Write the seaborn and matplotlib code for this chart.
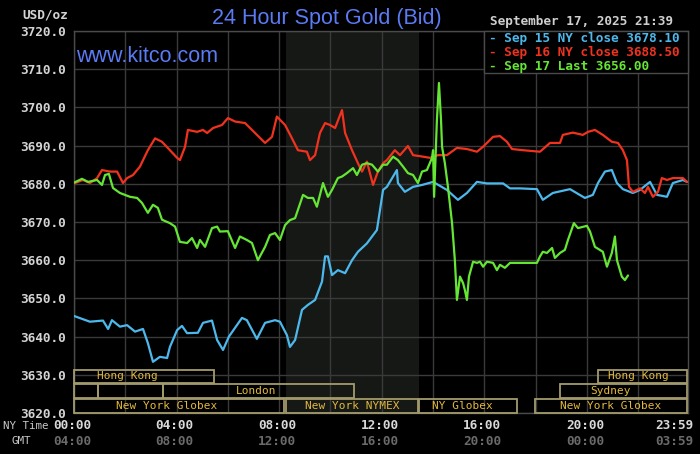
import matplotlib
matplotlib.use("Agg")
import matplotlib.pyplot as plt
import matplotlib.transforms as mtransforms
from matplotlib.patches import Rectangle
import numpy as np
import pandas as pd
import seaborn as sns

# ---------------- data (hours after NY midnight, USD/oz) ----------------
sep15_hours = [0.00, 0.62, 1.13, 1.33, 1.48, 1.79, 2.07, 2.38, 2.69, 2.88, 3.08, 3.35, 3.63, 3.74,
               4.02, 4.21, 4.41, 4.83, 5.03, 5.38, 5.58, 5.81, 6.04, 6.55, 6.74, 7.13, 7.45, 7.84,
               8.03, 8.30, 8.42, 8.62, 8.89, 9.12, 9.40, 9.67, 9.79, 9.90, 10.06, 10.29, 10.57,
               10.84, 11.07, 11.42, 11.62, 11.81, 11.93, 12.05, 12.20, 12.44, 12.59, 12.63, 12.90,
               13.22, 13.57, 14.00, 14.54, 14.97, 15.32, 15.71, 16.10, 16.73, 17.00, 17.39, 18.05,
               18.28, 18.67, 19.34, 19.92, 20.23, 20.43, 20.70, 20.97, 21.17, 21.40, 21.79, 22.07,
               22.46, 22.73, 23.12, 23.35, 23.74, 23.90]
sep15_price = [3645.4, 3643.9, 3644.2, 3642.0, 3644.3, 3642.6, 3643.0, 3641.3, 3642.0, 3638.3,
               3633.4, 3634.7, 3634.4, 3637.3, 3641.7, 3642.8, 3640.9, 3641.0, 3643.6, 3644.2,
               3639.1, 3636.5, 3640.0, 3644.9, 3644.3, 3639.4, 3643.6, 3644.3, 3643.9, 3640.4,
               3637.3, 3639.1, 3647.0, 3648.3, 3649.6, 3654.4, 3661.0, 3661.0, 3656.1, 3657.4,
               3656.6, 3660.0, 3662.2, 3664.4, 3666.2, 3667.9, 3673.1, 3678.4, 3679.2, 3681.9,
               3683.6, 3680.2, 3677.9, 3679.2, 3679.7, 3680.5, 3678.4, 3675.8, 3677.6, 3680.5,
               3680.1, 3680.1, 3678.8, 3678.8, 3678.6, 3675.8, 3677.6, 3678.6, 3676.3, 3677.1,
               3680.2, 3683.2, 3683.6, 3680.2, 3678.6, 3677.6, 3678.4, 3680.5, 3677.1, 3676.6,
               3680.2, 3681.0, 3680.5]

sep16_hours = [0.00, 0.35, 0.62, 0.90, 1.09, 1.40, 1.68, 1.91, 2.07, 2.30, 2.57, 2.88, 3.16, 3.43,
               3.74, 4.02, 4.13, 4.33, 4.44, 4.80, 5.03, 5.19, 5.42, 5.77, 6.00, 6.28, 6.67, 7.06,
               7.45, 7.72, 7.91, 8.23, 8.50, 8.73, 9.08, 9.20, 9.40, 9.59, 9.79, 9.98, 10.18, 10.45,
               10.57, 10.84, 11.07, 11.23, 11.42, 11.66, 11.85, 12.05, 12.20, 12.51, 12.71, 13.02,
               13.22, 13.61, 13.88, 14.19, 14.54, 14.93, 15.32, 15.71, 15.95, 16.34, 16.61, 16.88,
               17.08, 17.50, 18.17, 18.56, 18.95, 19.06, 19.45, 19.84, 20.04, 20.31, 20.62, 20.97,
               21.21, 21.40, 21.56, 21.64, 21.79, 22.07, 22.26, 22.38, 22.57, 22.77, 22.92, 23.12,
               23.35, 23.74, 23.90]
sep16_price = [3680.1, 3681.0, 3680.2, 3681.5, 3683.6, 3683.2, 3683.2, 3680.2, 3681.5, 3682.3,
               3684.5, 3688.8, 3691.9, 3691.0, 3688.8, 3686.8, 3686.2, 3689.7, 3694.1, 3693.6,
               3694.1, 3693.3, 3694.6, 3695.4, 3697.2, 3696.3, 3695.9, 3693.3, 3690.7, 3692.3,
               3697.6, 3695.4, 3691.9, 3688.8, 3688.4, 3686.2, 3687.5, 3693.3, 3695.9, 3695.4,
               3694.6, 3699.3, 3693.3, 3688.8, 3685.4, 3683.2, 3685.8, 3679.7, 3683.2, 3685.4,
               3686.2, 3688.8, 3687.5, 3689.9, 3687.5, 3687.1, 3686.8, 3687.5, 3687.5, 3689.4,
               3689.1, 3688.4, 3689.7, 3692.3, 3692.5, 3691.0, 3689.1, 3688.8, 3688.4, 3690.7,
               3690.7, 3692.8, 3693.4, 3692.8, 3693.6, 3694.1, 3692.8, 3691.0, 3690.7, 3688.8,
               3686.2, 3679.2, 3677.9, 3678.8, 3677.6, 3679.2, 3676.6, 3677.9, 3681.5, 3681.0,
               3681.5, 3681.5, 3680.5]

sep17_hours = [0.00, 0.31, 0.55, 0.90, 1.09, 1.21, 1.36, 1.52, 1.79, 2.18, 2.46, 2.65, 2.88, 3.08,
               3.27, 3.43, 3.74, 3.94, 4.13, 4.41, 4.60, 4.80, 4.91, 5.11, 5.38, 5.58, 5.69, 6.00,
               6.28, 6.47, 6.74, 6.94, 7.17, 7.45, 7.64, 7.84, 8.03, 8.23, 8.42, 8.62, 8.93, 9.12,
               9.32, 9.47, 9.71, 9.90, 10.06, 10.29, 10.45, 10.64, 10.88, 11.03, 11.23, 11.42,
               11.62, 11.85, 12.05, 12.20, 12.44, 12.63, 12.83, 13.02, 13.22, 13.41, 13.57, 13.76,
               13.96, 14.00, 14.04, 14.15, 14.23, 14.31, 14.35, 14.46, 14.58, 14.74, 14.85, 14.93,
               15.05, 15.17, 15.24, 15.32, 15.40, 15.56, 15.71, 15.83, 15.95, 16.10, 16.34, 16.49,
               16.61, 16.80, 17.00, 17.50, 18.05, 18.17, 18.28, 18.44, 18.64, 18.75, 18.95, 19.14,
               19.26, 19.49, 19.65, 20.00, 20.12, 20.31, 20.62, 20.78, 20.97, 21.09, 21.17, 21.36,
               21.48, 21.60]
sep17_price = [3680.3, 3681.3, 3680.5, 3681.0, 3679.7, 3682.3, 3682.6, 3678.9, 3677.6, 3676.6,
               3676.3, 3675.0, 3672.4, 3674.5, 3673.7, 3670.6, 3669.7, 3668.8, 3664.8, 3664.5,
               3665.8, 3663.2, 3665.3, 3663.5, 3668.4, 3668.8, 3667.5, 3667.6, 3663.2, 3666.2,
               3665.3, 3664.5, 3660.0, 3663.5, 3666.6, 3667.1, 3665.3, 3669.2, 3670.5, 3671.0,
               3677.1, 3676.3, 3676.3, 3674.0, 3680.2, 3676.6, 3678.4, 3681.5, 3681.9, 3682.8,
               3684.1, 3682.3, 3685.0, 3685.4, 3685.0, 3683.2, 3685.0, 3685.0, 3687.1, 3686.2,
               3684.5, 3682.8, 3682.3, 3680.2, 3683.2, 3683.6, 3686.8, 3688.8, 3676.6, 3696.7,
               3706.4, 3696.7, 3689.7, 3685.4, 3679.2, 3669.7, 3660.0, 3649.6, 3655.7, 3654.0,
               3652.2, 3649.6, 3655.7, 3659.6, 3659.3, 3659.6, 3658.3, 3659.6, 3659.3, 3657.4,
               3658.8, 3658.0, 3659.3, 3659.3, 3659.3, 3661.0, 3662.2, 3661.9, 3663.2, 3660.6,
               3661.9, 3662.7, 3665.3, 3669.7, 3668.4, 3669.0, 3667.5, 3663.5, 3662.2, 3658.3,
               3661.9, 3666.2, 3660.0, 3655.7, 3654.8, 3656.0]

series_names = ["Sep 15", "Sep 16", "Sep 17"]
legend_labels = ["Sep 15 NY close 3678.10", "Sep 16 NY close 3688.50", "Sep 17 Last 3656.00"]

ny_tick_hours = [0, 4, 8, 12, 16, 20, 23.98]
ny_tick_labels = ["00:00", "04:00", "08:00", "12:00", "16:00", "20:00", "23:59"]
gmt_tick_labels = ["04:00", "08:00", "12:00", "16:00", "20:00", "00:00", "03:59"]

# trading sessions: (row, label, start hour, end hour)
session_rows = [0, 0, 1, 1, 1, 1, 2, 2, 2, 2]
session_names = ["Hong Kong", "Hong Kong", "", "", "London", "Sydney",
                 "New York Globex", "New York NYMEX", "NY Globex", "New York Globex"]
session_start = [0.0, 20.45, 0.0, 0.95, 3.47, 18.93, 0.0, 8.28, 13.45, 17.98]
session_end = [5.46, 23.90, 0.95, 3.47, 10.93, 23.90, 8.20, 13.40, 17.26, 23.90]
session_label_x = [2.1, 22.0, None, None, 7.1, 20.9, 3.6, 10.85, 15.15, 20.93]

nymex_start, nymex_end = 8.28, 13.45

# ---------------- build frame ----------------
df = pd.concat([
    pd.DataFrame({"hour": h, "price": p, "day": n})
    for h, p, n in zip([sep15_hours, sep16_hours, sep17_hours],
                       [sep15_price, sep16_price, sep17_price], series_names)
], ignore_index=True)

palette = {"Sep 15": "#4cb8ec", "Sep 16": "#f0321e", "Sep 17": "#66e634"}

sns.set_theme(style="dark")
plt.rcParams["font.family"] = ["DejaVu Sans"]

W, H = 700, 454
fig = plt.figure(figsize=(W / 100, H / 100), dpi=100, facecolor="black")
L, R, T, B = 74, 688, 31, 413
ax = fig.add_axes([L / W, (H - B) / H, (R - L) / W, (B - T) / H])
ax.set_facecolor("black")

grid_c = "#3a3a3a"
ax.axvspan(nymex_start, nymex_end, color="#151815", zorder=0, lw=0)

sns.lineplot(data=df, x="hour", y="price", hue="day", palette=palette,
             estimator=None, sort=False, linewidth=1.6, legend=False, ax=ax, zorder=3)

ax.set_xlim(0, 23.94)
ax.set_ylim(3620, 3720)
ax.set_xticks(np.arange(0, 24, 2))
ax.set_yticks(np.arange(3620, 3721, 10))
ax.set_yticklabels([f"{v:.1f}" for v in np.arange(3620, 3721, 10)])
ax.set_xticklabels([])
ax.grid(True, color=grid_c, linewidth=1.0, zorder=1)
ax.set_axisbelow(True)
ax.tick_params(axis="both", length=0, pad=6)
ax.tick_params(axis="y", labelcolor="#d4d4d4")
for lab in ax.get_yticklabels():
    lab.set_fontfamily("DejaVu Sans Mono")
    lab.set_fontweight("bold")
    lab.set_fontsize(9.2)
ax.set_xlabel("")
ax.set_ylabel("")
for s in ax.spines.values():
    s.set_color("#4a4a4a")
    s.set_linewidth(1.0)

mono = "DejaVu Sans Mono"

# sessions
row_y = [(0.0785, 0.1126), (0.0393, 0.0759), (0.0, 0.0366)]
trans = mtransforms.blended_transform_factory(ax.transData, ax.transAxes)
for r, name, s0, s1, lx in zip(session_rows, session_names, session_start, session_end, session_label_x):
    y0, y1 = row_y[r]
    ax.add_patch(Rectangle((s0, y0), s1 - s0, y1 - y0, transform=trans, fill=False,
                           edgecolor="#a39b6c", linewidth=1.3, zorder=4, clip_on=False))
    if name:
        ax.text(lx, (y0 + y1) / 2, name, transform=trans, ha="center", va="center",
                fontsize=8, family=mono, color="#e2b93e", zorder=5)

# x labels (NY time and GMT)
def fy(y):
    return 1 - y / H

for hx, l1, l2 in zip(ny_tick_hours, ny_tick_labels, gmt_tick_labels):
    xp = (L + hx * (R - L) / 23.94 - 2) / W
    if l1 == "23:59":
        xp = 674 / W
    fig.text(xp, fy(429), l1, ha="center", va="baseline", fontsize=9.2, family=mono,
             fontweight="bold", color="#d8d8d8")
    fig.text(xp, fy(445), l2, ha="center", va="baseline", fontsize=9.2, family=mono,
             fontweight="bold", color="#6a6a6a")
fig.text(3 / W, fy(429), "NY Time", ha="left", va="baseline", fontsize=7.8, family=mono, color="#c8c8c8")
fig.text(12 / W, fy(444), "GMT", ha="left", va="baseline", fontsize=7.8, family=mono, color="#c8c8c8")

# headers
fig.text(68 / W, fy(19), "USD/oz", ha="right", va="baseline", fontsize=9.2, family=mono,
         fontweight="bold", color="#d4d4d4")
fig.text(326.5 / W, fy(24), "24 Hour Spot Gold (Bid)", ha="center", va="baseline",
         fontsize=15.5, family="Liberation Sans", color="#5b7bf5")
fig.text(76 / W, fy(62), "www.kitco.com", ha="left", va="baseline",
         fontsize=15.5, family="Liberation Sans", color="#5b7bf5", zorder=6)
fig.text(490 / W, fy(25), "September 17, 2025 21:39", ha="left", va="baseline", fontsize=9.2,
         family=mono, fontweight="bold", color="#cfcfcf")

# legend box
bx0 = (484 - L) / (R - L)
by0 = (B - 73) / (B - T)
ax.add_patch(Rectangle((bx0, by0), 1 - bx0, 1 - by0, transform=ax.transAxes, facecolor="black",
                       edgecolor="#4a4a4a", linewidth=1.0, zorder=6, clip_on=False))
for name, lab, yb in zip(series_names, legend_labels, [42, 56, 70]):
    fig.text(489 / W, fy(yb), "- " + lab, ha="left", va="baseline", fontsize=9.2, family=mono,
             fontweight="bold", color=palette[name], zorder=7)

fig.savefig("out.png", dpi=100, facecolor="black")
